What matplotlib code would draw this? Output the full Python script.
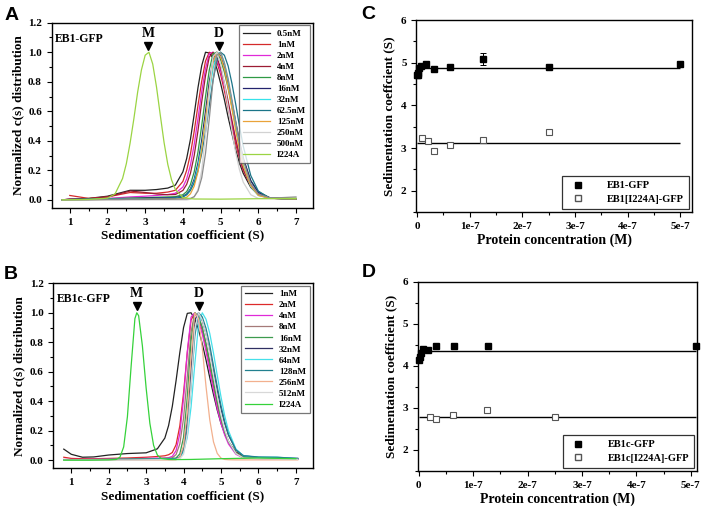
import numpy as np
import matplotlib
matplotlib.use("Agg")
import matplotlib.pyplot as plt
from matplotlib.ticker import MultipleLocator, FuncFormatter
from matplotlib.lines import Line2D

plt.rcParams['font.family'] = ['Liberation Serif', 'DejaVu Serif']
plt.rcParams['font.weight'] = 'bold'
plt.rcParams['axes.labelweight'] = 'bold'

nan = np.nan

# ---------- PANEL A : EB1-GFP c(s) distributions ----------
s_A = [0.8, 1.0, 1.5, 2.0, 2.3, 2.6, 3.0, 3.3, 3.6, 3.8,
       4.0, 4.1, 4.2, 4.3, 4.4, 4.5, 4.6, 4.7, 4.8, 4.9, 5.0, 5.1, 5.2, 5.3, 5.4, 5.5, 5.6,
       5.8, 6.0, 6.3, 6.6, 7.0]
labels_A = ['0.5nM', '1nM', '2nM', '4nM', '8nM', '16nM', '32nM', '62.5nM',
            '125nM', '250nM', '500nM']
colors_A = ['#222222', '#d42a2a', '#e02ad8', '#9c1c34', '#2f9a45', '#23236e',
            '#35e2ea', '#1b7588', '#e9a33a', '#d2d2d2', '#8c8c8c']
curves_A = [
    [0.0, .005, .01, .025, .045, .065, .065, .07, .08, .10,
     .19, .28, .41, .58, .76, .91, 1.0, .995, .96, .89, .79, .68, .56, .45, .34, .25, .18,
     .085, .035, .012, .008, .005],
    [nan, .03, .01, .02, .035, .05, .045, .045, .053, .065,
     .125, .2, .31, .465, .64, .805, .94, 1.0, .99, .935, .85, .74, .62, .50, .38, .28, .20,
     .095, .04, .015, .01, .008],
    [0.0, .005, .005, .01, .015, .02, .025, .03, .036, .045,
     .087, .142, .236, .375, .55, .735, .89, .99, 1.0, .953, .875, .77, .65, .52, .41, .30, .21,
     .10, .04, .012, .008, .006],
    [0.0, .005, .008, .02, .04, .06, .05, .04, .035, .036,
     .064, .105, .18, .30, .468, .665, .84, .967, 1.0, .967, .895, .79, .667, .54, .41, .30, .21,
     .095, .04, .012, .008, .006],
    [0.0, .003, .005, .008, .01, .012, .015, .018, .02, .022,
     .035, .056, .103, .19, .324, .505, .70, .88, .99, 1.0, .95, .866, .755, .63, .50, .38, .275,
     .13, .055, .015, .01, .008],
    [0.0, .002, .004, .006, .008, .01, .012, .014, .015, .016,
     .025, .04, .074, .14, .25, .405, .60, .80, .945, 1.0, .975, .90, .79, .665, .53, .40, .285,
     .13, .05, .015, .01, .008],
    [0.0, .002, .003, .005, .006, .007, .008, .009, .01, .011,
     .02, .035, .066, .125, .225, .365, .54, .73, .89, .99, 1.0, .926, .81, .66, .50, .355, .236,
     .09, .03, .012, .008, .006],
    [0.0, .002, .003, .004, .005, .006, .007, .008, .009, .011,
     .02, .035, .064, .115, .198, .315, .46, .64, .81, .94, 1.0, .98, .907, .79, .65, .50, .365,
     .165, .06, .012, .008, .006],
    [0.0, .001, .002, .003, .003, .004, .004, .005, .005, .005,
     .009, .018, .041, .093, .19, .345, .55, .76, .935, 1.0, .97, .887, .76, .62, .47, .34, .23,
     .095, .03, .01, .008, .006],
    [0.0, 0.0, 0.0, 0.0, 0.0, 0.0, 0.0, 0.0, 0.0, 0.0,
     0.0, 0.0, .004, .02, .07, .20, .44, .74, .97, 1.0, .92, .79, .63, .47, .32, .205, .12,
     .035, .01, .008, .01, .015],
    [0.0, 0.0, 0.0, .002, .002, .003, .003, .004, .004, .005,
     .006, .006, .01, .022, .06, .15, .315, .55, .81, .98, 1.0, .93, .82, .68, .53, .39, .27,
     .11, .04, .015, .015, .02],
]
s_mut_A = [0.8, 1.5, 2.0, 2.2, 2.4, 2.5, 2.6, 2.7, 2.8, 2.9, 3.0, 3.1, 3.2, 3.3,
           3.4, 3.5, 3.6, 3.7, 3.8, 4.0, 4.3, 5.0, 6.0, 7.0]
mut_A = [0.0, .003, .012, .04, .145, .245, .385, .55, .73, .88, .98, 1.0, .92, .765,
         .575, .39, .24, .135, .07, .015, .006, .005, .008, .01]
mut_color_A = '#9bd443'
marks_A = {'M': 3.08, 'D': 4.96}

# ---------- PANEL B : EB1c-GFP c(s) distributions ----------
s_B = [0.8, 1.0, 1.3, 1.6, 2.0, 2.5, 3.0, 3.3, 3.5, 3.6, 3.7, 3.8, 3.9,
       4.0, 4.1, 4.2, 4.3, 4.4, 4.5, 4.6, 4.7, 4.8, 4.9, 5.0, 5.1, 5.2,
       5.4, 5.6, 6.0, 6.5, 7.05]
labels_B = ['1nM', '2nM', '4nM', '8nM', '16nM', '32nM', '64nM', '128nM',
            '256nM', '512nM']
colors_B = ['#222222', '#dd2a2a', '#e02ad8', '#a57a78', '#3d9b4e', '#2f2f62',
            '#45e0ea', '#22808f', '#f2b08e', '#d8d8d8']
curves_B = [
    [.075, .04, .02, .022, .035, .045, .05, .077, .15, .235, .366, .54, .73,
     .90, .996, 1.0, .958, .886, .79, .68, .56, .446, .34, .25, .18, .125,
     .055, .025, .015, .01, .008],
    [.02, .012, .01, .01, .012, .015, .02, .025, .03, .037, .052, .105, .232,
     .456, .73, .95, 1.0, .96, .88, .765, .63, .50, .375, .27, .185, .125,
     .05, .02, .012, .01, .008],
    [.005, .005, .005, .006, .008, .01, .012, .014, .015, .017, .026, .065, .18,
     .42, .735, .97, 1.0, .946, .857, .738, .607, .474, .35, .25, .17, .11,
     .04, .015, .01, .008, .006],
    [.003, .003, .004, .005, .006, .008, .01, .01, .012, .012, .016, .038, .11,
     .285, .57, .87, 1.0, .975, .90, .79, .665, .53, .40, .285, .195, .127,
     .048, .017, .01, .008, .006],
    [.002, .002, .003, .004, .005, .007, .008, .01, .012, .012, .012, .015, .043,
     .155, .43, .81, 1.0, .975, .90, .79, .665, .53, .40, .285, .195, .127,
     .048, .02, .012, .01, .008],
    [.002, .002, .002, .003, .004, .005, .006, .007, .008, .008, .009, .01, .022,
     .08, .27, .62, .95, 1.0, .946, .857, .738, .607, .474, .35, .25, .17,
     .07, .03, .018, .015, .012],
    [0.0, 0.0, .002, .003, .004, .005, .006, .007, .008, .008, .008, .01, .02,
     .055, .155, .36, .65, .92, 1.0, .956, .86, .726, .576, .43, .30, .20,
     .075, .03, .02, .02, .01],
    [0.0, 0.0, .001, .002, .003, .004, .005, .006, .006, .007, .008, .01, .02,
     .07, .215, .50, .84, 1.0, .972, .895, .78, .64, .50, .37, .26, .175,
     .07, .03, .022, .02, .012],
    [0.0, 0.0, 0.0, 0.0, 0.0, 0.0, .001, .001, .001, .001, .001, .003, .02,
     .098, .325, .70, 1.0, .96, .76, .50, .274, .124, .046, .014, .005, .003,
     .002, .002, .002, .002, .002],
    [0.0, 0.0, 0.0, 0.0, 0.0, 0.0, .002, .003, .004, .004, .004, .005, .01,
     .04, .175, .50, .89, 1.0, .95, .855, .723, .577, .434, .306, .205, .13,
     .045, .015, .01, .008, .006],
]
s_mut_B = [0.8, 1.5, 2.0, 2.2, 2.3, 2.4, 2.5, 2.6, 2.7, 2.75, 2.8, 2.9, 3.0,
           3.1, 3.2, 3.3, 3.4, 3.6, 3.8, 4.2, 5.0, 6.0, 7.0]
mut_B = [0.0, 0.0, .002, .005, .02, .09, .295, .64, .96, 1.0, .98, .776, .49,
         .25, .10, .035, .012, .005, .004, .005, .01, .015, .01]
mut_color_B = '#35d23a'
marks_B = {'M': 2.75, 'D': 4.41}

# ---------- PANEL C : EB1-GFP sedimentation vs concentration ----------
conc_wt_C = [0.5, 1, 2, 4, 8, 16, 32, 62.5, 125, 250, 500]          # nM
sed_wt_C = [4.70, 4.75, 4.72, 4.87, 4.92, 4.96, 4.86, 4.89, 5.09, 4.91, 4.97]
err_wt_C = [0.05, 0.04, 0.05, 0.03, 0.03, 0.02, 0.03, 0.06, 0.14, 0.03, 0.07]
conc_mut_C = [10, 20, 31.25, 62.5, 125, 250]                        # nM
sed_mut_C = [3.23, 3.16, 2.94, 3.06, 3.18, 3.37]
fit_wt_C = 4.875
fit_mut_C = 3.11

# ---------- PANEL D : EB1c-GFP sedimentation vs concentration ----------
conc_wt_D = [1, 2, 4, 8, 16, 32, 64, 128, 510]                      # nM
sed_wt_D = [4.15, 4.22, 4.30, 4.40, 4.38, 4.48, 4.48, 4.46, 4.46]
err_wt_D = [0.02, 0.02, 0.02, 0.02, 0.02, 0.03, 0.02, 0.02, 0.02]
conc_mut_D = [20, 31.25, 62.5, 125, 250]                            # nM
sed_mut_D = [2.79, 2.73, 2.83, 2.95, 2.79]
fit_wt_D = 4.36
fit_mut_D = 2.79

fig = plt.figure(figsize=(7.06, 5.15), dpi=100)


def style_axes(ax):
    for sp in ax.spines.values():
        sp.set_linewidth(1.0)
    ax.tick_params(which='both', direction='out', width=0.8, labelsize=8)
    ax.tick_params(which='major', length=3.5)
    ax.tick_params(which='minor', length=2)


def dist_panel(ax, s, curves, labels, colors, s_mut, mut, mut_color, name, marks):
    for y, lab, c in zip(curves, labels, colors):
        ax.plot(s, y, color=c, lw=0.9, label=lab)
    ax.plot(s_mut, mut, color=mut_color, lw=0.9, label='I224A')
    ax.set_xlim(0.52, 7.45)
    ax.set_ylim(-0.055, 1.2)
    ax.xaxis.set_major_locator(MultipleLocator(1))
    ax.xaxis.set_minor_locator(MultipleLocator(0.5))
    ax.yaxis.set_major_locator(MultipleLocator(0.2))
    ax.yaxis.set_minor_locator(MultipleLocator(0.1))
    ax.yaxis.set_major_formatter(FuncFormatter(lambda v, p: f'{v:.1f}'))
    ax.set_xlabel('Sedimentation coefficient (S)', fontsize=9.5, labelpad=2)
    ax.set_ylabel('Normalized c(s) distribution', fontsize=9.5, labelpad=3)
    ax.text(0.013, 0.945, name, transform=ax.transAxes, fontsize=8.5,
            va='top', ha='left')
    for k, xv in marks.items():
        ax.plot([xv], [1.045], marker='v', color='black', ms=6, ls='none')
        ax.text(xv, 1.085, k, ha='center', va='bottom', fontsize=10)
    leg = ax.legend(loc='upper right', fontsize=6.5, handlelength=3.0,
                    labelspacing=0.3, borderpad=0.45, borderaxespad=0.3,
                    frameon=True, fancybox=False, handletextpad=0.8)
    leg.get_frame().set_edgecolor('#555555')
    leg.get_frame().set_linewidth(0.9)
    style_axes(ax)


def conc_fmt(v, p):
    if abs(v) < 1e-12:
        return '0'
    return f'{v / 1e-7:.0f}e-7'


def sed_panel(ax, cw, sw, ew, cm, sm, fw, fm, lw_lab, lm_lab, ylab, xmax):
    cw = np.array(cw) * 1e-9
    cm = np.array(cm) * 1e-9
    xend = max(cw.max(), cm.max())
    ax.hlines([fw, fm], 0, xend, color='black', lw=1.0)
    ax.errorbar(cw, sw, yerr=ew, fmt='s', color='black', ms=4.8, capsize=2,
                elinewidth=0.7, capthick=0.7, clip_on=False, zorder=3)
    ax.plot(cm, sm, 's', mfc='white', mec='#555555', mew=0.8, ms=5,
            clip_on=False, zorder=3)
    ax.set_xlim(-1.5e-9, xmax)
    ax.set_ylim(1.5, 6)
    ax.xaxis.set_major_locator(MultipleLocator(1e-7))
    ax.xaxis.set_minor_locator(MultipleLocator(0.5e-7))
    ax.yaxis.set_major_locator(MultipleLocator(1))
    ax.yaxis.set_minor_locator(MultipleLocator(0.5))
    ax.xaxis.set_major_formatter(FuncFormatter(conc_fmt))
    ax.set_xlabel('Protein concentration (M)', fontsize=10, labelpad=2)
    ax.set_ylabel(ylab, fontsize=9.5, labelpad=4)
    h = [Line2D([], [], marker='s', color='black', ls='none', ms=4.5),
         Line2D([], [], marker='s', mfc='white', mec='#555555', ls='none', ms=4.5)]
    leg = ax.legend(h, [lw_lab, lm_lab], loc='lower right', fontsize=7.5,
                    handletextpad=1.8, borderpad=0.5, borderaxespad=0.3,
                    labelspacing=0.4, frameon=True, fancybox=False)
    leg.get_frame().set_edgecolor('black')
    leg.get_frame().set_linewidth(0.9)
    style_axes(ax)


axA = fig.add_axes([0.0732, 0.5961, 0.3701, 0.3598])
dist_panel(axA, s_A, curves_A, labels_A, colors_A, s_mut_A, mut_A, mut_color_A,
           'EB1-GFP', marks_A)

axB = fig.add_axes([0.0755, 0.0907, 0.3674, 0.3592])
dist_panel(axB, s_B, curves_B, labels_B, colors_B, s_mut_B, mut_B, mut_color_B,
           'EB1c-GFP', marks_B)

axC = fig.add_axes([0.5897, 0.5883, 0.3905, 0.3728])
sed_panel(axC, conc_wt_C, sed_wt_C, err_wt_C, conc_mut_C, sed_mut_C,
          fit_wt_C, fit_mut_C, 'EB1-GFP', 'EB1[I224A]-GFP',
          'Sedimentation coeffcient (S)', 5.22e-7)

axD = fig.add_axes([0.5921, 0.0854, 0.3956, 0.3676])
sed_panel(axD, conc_wt_D, sed_wt_D, err_wt_D, conc_mut_D, sed_mut_D,
          fit_wt_D, fit_mut_D, 'EB1c-GFP', 'EB1c[I224A]-GFP',
          'Sedimentation coefficient (S)', 5.12e-7)

for lab, x, y in [('A', 0.006, 0.986), ('C', 0.512, 0.988),
                  ('B', 0.006, 0.484), ('D', 0.512, 0.487)]:
    fig.text(x, y, lab, fontsize=14, fontweight='bold', family='Liberation Sans',
             va='top', ha='left')

fig.savefig('out.png', dpi=100)
